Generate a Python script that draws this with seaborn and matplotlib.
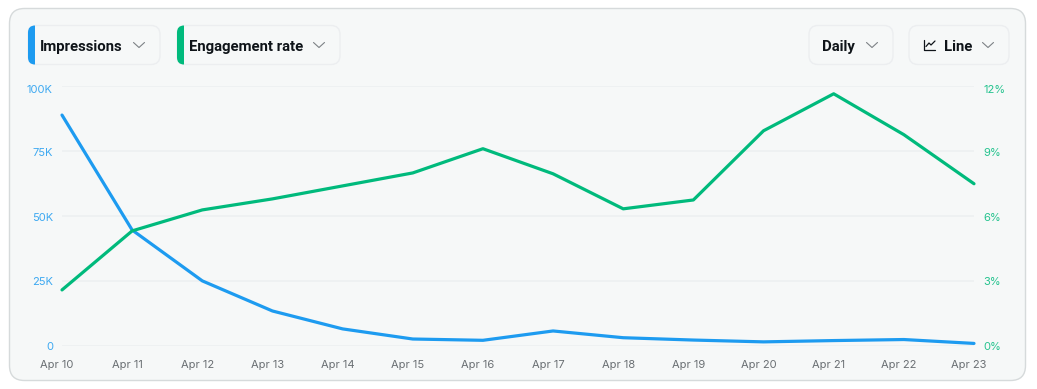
import pandas as pd
import seaborn as sns
from matplotlib import pyplot as plt
from matplotlib.patches import FancyBboxPatch, Rectangle
from matplotlib.transforms import ScaledTranslation

dates = ["Apr 10", "Apr 11", "Apr 12", "Apr 13", "Apr 14", "Apr 15", "Apr 16",
         "Apr 17", "Apr 18", "Apr 19", "Apr 20", "Apr 21", "Apr 22", "Apr 23"]
impressions = [88800, 44500, 24900, 13300, 6400, 2500, 2000,
               5600, 3000, 2100, 1400, 1900, 2300, 800]
engagement = [2.57, 5.3, 6.27, 6.78, 7.38, 7.98, 9.1,
              7.94, 6.32, 6.73, 9.93, 11.64, 9.75, 7.48]
left_ticks = [0, 25000, 50000, 75000, 100000]
left_labels = ["0", "25K", "50K", "75K", "100K"]
right_ticks = [0, 3, 6, 9, 12]
right_labels = ["0%", "3%", "6%", "9%", "12%"]

BLUE = "#1d9bf0"
GREEN = "#00ba7c"
W, H = 1037, 389

df = pd.DataFrame({"date": dates, "impressions": impressions, "engagement": engagement})
df["pos"] = range(len(df))

sns.set_theme(style="white")
plt.rcParams["font.family"] = ["Inter", "DejaVu Sans"]

fig = plt.figure(figsize=(W / 100, H / 100), dpi=100, facecolor="white")

# chrome drawn in pixel coordinates, y pointing down
bg = fig.add_axes([0, 0, 1, 1], zorder=0)
bg.set_xlim(0, W)
bg.set_ylim(H, 0)
bg.axis("off")


def box(x0, y0, x1, y1, r, face, edge, lw=1):
    bg.add_patch(FancyBboxPatch((x0, y0), x1 - x0, y1 - y0,
                                boxstyle="round,pad=0,rounding_size=%d" % r,
                                fc=face, ec=edge, lw=lw))


def chevron(x, y):
    bg.plot([x - 5.5, x, x + 5.5], [y - 2.5, y + 2.5, y - 2.5], color="#7d8286", lw=0.8)


def button(x0, x1, label, tx, cx, stripe=None):
    box(x0, 25.5, x1, 64.5, 9, "#f6f8f8", "#eceef0")
    if stripe:
        patch = FancyBboxPatch((x0, 25.5), 14, 39, boxstyle="round,pad=0,rounding_size=7",
                               fc=stripe, ec="none")
        bg.add_patch(patch)
        patch.set_clip_path(Rectangle((x0, 25), 6.5, 40, transform=bg.transData))
    bg.text(tx, 45, label, fontsize=10.7, fontweight="bold", color="#0f1419",
            family=["Roboto", "DejaVu Sans"], va="center_baseline", ha="left")
    chevron(cx, 45)


box(9.5, 8.5, 1025.5, 380.5, 15, "#f6f8f8", "#d6dadb", 1)
button(28, 160, "Impressions", 40, 139, BLUE)
button(177, 340, "Engagement rate", 189, 319, GREEN)
button(809, 893, "Daily", 822, 872)
button(909, 1009, "Line", 944, 988)

# small line chart icon on the Line button
bg.plot([924, 924, 935], [40, 50, 50], color="#0f1419", lw=0.9)
bg.plot([926, 929, 931, 935], [46.5, 43, 45, 41], color="#0f1419", lw=0.9)

# plot area: Apr 10 at x=62, Apr 23 at x=974, 100K at y=86, 0 at y=345.5
ax = fig.add_axes([62 / W, 1 - 345.5 / H, (974 - 62) / W, (345.5 - 86) / H], zorder=1)
ax.patch.set_alpha(0)
sns.lineplot(data=df, x="pos", y="impressions", ax=ax, color=BLUE, linewidth=2.3,
             zorder=3, clip_on=False, solid_capstyle="round")
ax.set_xlim(0, len(dates) - 1)
ax.set_ylim(0, 100000)
ax.set_yticks(left_ticks)
ax.set_yticklabels(left_labels, color=BLUE, fontsize=8, va="center", alpha=0.85)
ax.set_xticks(df["pos"])
ax.set_xticklabels(dates, color="#6a6f73", fontsize=8)
ax.set_xlabel("")
ax.set_ylabel("")
ax.grid(axis="y", color="#edf0f1", lw=1.2)
ax.tick_params(axis="x", length=0, pad=10.5)
ax.tick_params(axis="y", length=0, pad=6.5)
sns.despine(ax=ax, left=True, bottom=True)

ax2 = ax.twinx()
sns.lineplot(data=df, x="pos", y="engagement", ax=ax2, color=GREEN, linewidth=2.3,
             zorder=4, clip_on=False, solid_capstyle="round")
ax2.set_ylim(0, 12)
ax2.set_yticks(right_ticks)
ax2.set_yticklabels(right_labels, color=GREEN, fontsize=8, va="center", alpha=0.85)
ax2.set_ylabel("")
ax2.grid(False)
ax2.tick_params(axis="y", length=0, pad=6.5)
sns.despine(ax=ax2, left=True, right=True, bottom=True)

# the labels sit a little below their gridlines, more so towards the top
nudges = [1.5, 1.5, 2, 2.5, 4]
for axis_ in (ax, ax2):
    for label, dy in zip(axis_.get_yticklabels(), nudges):
        label.set_transform(label.get_transform() + ScaledTranslation(0, -dy / 100, fig.dpi_scale_trans))
for label in ax.get_xticklabels():
    label.set_transform(label.get_transform() + ScaledTranslation(-5 / 100, 0, fig.dpi_scale_trans))

fig.savefig("out.png", dpi=100)
